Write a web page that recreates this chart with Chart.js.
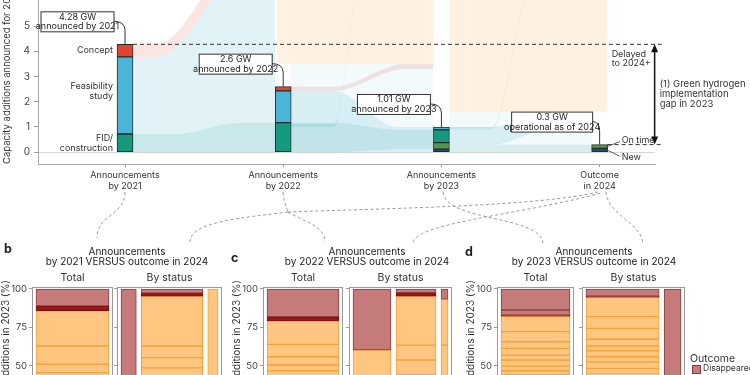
<!DOCTYPE html>
<html>
<head>
<meta charset="utf-8">
<script src="https://cdn.jsdelivr.net/npm/chart.js@4.4.1/dist/chart.umd.min.js"></script>
<style>
  body { margin: 0; width: 750px; height: 375px; overflow: hidden; position: relative; background: #fff;
         font-family: Inter, "Noto Sans", sans-serif; color: #222; }
  canvas { position: absolute; }
  .ttl { position: absolute; font-size: 10px; line-height: 10px; text-align: center; white-space: nowrap; }
  .let { position: absolute; font-size: 12.5px; line-height: 12px; font-weight: 700; }
  .yt { position: absolute; width: 200px; font-size: 10px; line-height: 11px; text-align: right; white-space: nowrap;
        transform-origin: 0 0; transform: rotate(-90deg); color: #333; }
  svg { position: absolute; left: 0; top: 0; }
</style>
</head>
<body>
<canvas id="main" width="750" height="272" style="left:0;top:-72px"></canvas>

<canvas id="bTot" width="113" height="200" style="left:0;top:270px"></canvas>
<canvas id="bSta" width="110" height="200" style="left:112px;top:270px"></canvas>
<canvas id="cTot" width="112" height="200" style="left:231px;top:270px"></canvas>
<canvas id="cSta" width="108" height="200" style="left:344px;top:270px"></canvas>
<canvas id="dTot" width="109" height="200" style="left:465px;top:270px"></canvas>
<canvas id="dSta" width="108" height="200" style="left:577px;top:270px"></canvas>

<svg width="750" height="375" fill="none" stroke="#9a9a9a" stroke-width="1" stroke-dasharray="3 2.5">
  <path d="M125,192 C125,216 97,214 97,238"/>
  <path d="M283,192 C284,204 287,208 288,212"/>
  <path d="M288,212 C240,218 190,222 190,242"/>
  <path d="M288,212 C305,222 325,226 325,242"/>
  <path d="M288,212 C400,208 540,206 598,192"/>
  <path d="M443,192 C446,222 540,215 543,243"/>
  <path d="M413,242 C420,222 520,215 601,193"/>
  <path d="M606,192 C608,215 640,222 643,243"/>
</svg>

<div class="let" style="left:4px;top:243px">b</div>
<div class="let" style="left:231px;top:252px">c</div>
<div class="let" style="left:465px;top:246px">d</div>
<div class="ttl" style="left:27px;width:200px;top:246px">Announcements<br>by 2021 VERSUS outcome in 2024</div>
<div class="ttl" style="left:267px;width:200px;top:246px">Announcements<br>by 2022 VERSUS outcome in 2024</div>
<div class="ttl" style="left:494px;width:200px;top:246px">Announcements<br>by 2023 VERSUS outcome in 2024</div>
<div class="yt" style="left:0px;top:480px">Capacity additions in 2023 (%)</div>
<div class="yt" style="left:231px;top:480px">Capacity additions in 2023 (%)</div>
<div class="yt" style="left:465px;top:480px">Capacity additions in 2023 (%)</div>

<div style="position:absolute;left:690px;top:353px;font-size:10.5px;line-height:12px;color:#333">Outcome</div>
<div style="position:absolute;left:692px;top:365px;width:7px;height:7px;background:#c47b7a;border:1px solid #8e3d3d"></div>
<div style="position:absolute;left:703px;top:362px;font-size:8.5px;line-height:12px;color:#333">Disappeared</div>

<script>
// stages on the x axis of panel a
const stages = [['Announcements', 'by 2021'], ['Announcements', 'by 2022'], ['Announcements', 'by 2023'], ['Outcome', 'in 2024']];

// capacity per status (GW), bottom to top of each bar
const newCap     = [0,    0,    0.12, 0.15];
const onTimeCap  = [0,    0,    0.26, 0.15];
const fidCap     = [0.72, 1.17, 0.51, 0];
const feasCap    = [3.06, 1.26, 0.11, 0];
const conceptCap = [0.50, 0.17, 0,    0];

const totalText = ['4.28 GW', '2.6 GW', '1.01 GW', '0.3 GW'];
const totalNote = ['announced by 2021', 'announced by 2022', 'announced by 2023', 'operational as of 2024'];
const yTicksMain = [0, 1, 2, 3, 4, 5];

// flow bands: [x start, x end, low start, high start, low end, high end, colour, rise from, rise to]
const flowBands = [
  [0.05, 0.95, 0,    3.78, 0,    7.2,  'blue', 0.17, 0.8],
  [0.05, 0.95, 3.78, 4.28, 7.2,  8.0,  'pink', 0.17, 0.8],
  [0.05, 0.95, 0,    0.72, 0,    1.17, 'teal', 0.3,  0.75],
  [0.96, 1.95, 3.5,  9,    3.5,  9,    'peach', 0.3, 0.7],
  [2.05, 3.05, 1.6,  9,    1.6,  9,    'peach', 0.3, 0.7],
  [1.05, 1.95, 0,    3.5,  0,    3.5,  'faint', 0.3, 0.7],
  [1.05, 1.95, 0,    2.43, 0,    1.0,  'blue', 0.3,  0.75],
  [1.05, 1.95, 0,    1.17, 0.12, 0.89, 'teal', 0.3,  0.75],
  [1.05, 1.95, 2.43, 2.6,  3.3,  3.5,  'pink', 0.3,  0.8],
  [1.05, 1.95, 1.0,  1.12, 7.0,  7.12, 'teal', 0.3,  0.5],
  [2.05, 2.95, 0,    1.6,  0,    1.6,  'faint', 0.3, 0.7],
  [2.05, 2.95, 0.3,  1.0,  1.0,  1.6,  'blue', 0.3,  0.75],
  [2.05, 2.95, 0,    0.3,  0,    0.3,  'teal', 0.3,  0.7],
  [2.05, 2.95, 0.9,  1.0,  7.0,  7.1,  'teal', 0.3,  0.6]
];
const flowColours = {
  blue: 'rgba(76,180,214,0.16)', faint: 'rgba(76,180,214,0.07)', pink: 'rgba(224,70,47,0.14)',
  teal: 'rgba(18,152,124,0.12)', peach: 'rgba(253,196,130,0.24)'
};

// panel b-d: segment edges (%) per bar from top to bottom, outcome of each segment, status bar widths
const shareB = [0.176, 0.706, 0.118];
const edgesB = [
  [100, 88.9, 85.8, 62.8, 50.9, 45.4, 0],
  [100, 0],
  [100, 97.2, 95.4, 62.8, 55.2, 48.6, 0],
  [100, 0]
];
const outcomeB = ['DCLLLL', 'D', 'DCLLLL', 'L'];

const shareC = [0.447, 0.471, 0.082];
const edgesC = [
  [100, 81.9, 79.2, 63.9, 55.8, 50.4, 46.7, 0],
  [100, 60.2, 0],
  [100, 97.6, 95.4, 63.4, 53.7, 43.9, 0],
  [100, 93.3, 63.4, 0]
];
const outcomeC = ['DCLLLLL', 'DL', 'DCLLLL', 'DLL'];

const shareD = [0.813, 0.187];
const edgesD = [
  [100, 86.3, 83.0, 82.2, 72.2, 65.6, 61.3, 56.9, 53.7, 49.7, 46.7, 43.9, 0],
  [100, 95.4, 94.6, 82, 74.3, 67.2, 62.8, 59.7, 55.8, 52.5, 48.2, 44.9, 0],
  [100, 0]
];
const outcomeD = ['DDCLLLLLLLLL', 'DCLLLLLLLLLL', 'D'];
const yTicksPct = [0, 25, 50, 75, 100];

Chart.defaults.font.family = 'Inter, "Noto Sans", sans-serif';
Chart.defaults.color = '#333';

// ---------- panel a ----------
const segs = [newCap, onTimeCap, fidCap, feasCap, conceptCap];
const segColours = ['#2c4677', '#4f9a4a', '#17997d', '#4cb4d6', '#e0462f'];
const totals = stages.map((_, i) => segs.reduce((s, a) => s + a[i], 0));

const mainSets = [];
let base = stages.map(() => 0);
segs.forEach((arr, k) => {
  const pts = [];
  arr.forEach((v, i) => { if (v > 0) pts.push({ x: i, y: [base[i], base[i] + v] }); });
  base = base.map((b, i) => b + arr[i]);
  mainSets.push({
    type: 'bar', data: pts, backgroundColor: segColours[k], borderColor: '#2a2a2a',
    borderWidth: 1, borderSkipped: false, barThickness: 16, grouped: false, order: 1
  });
});

flowBands.forEach(f => {
  const [xa, xb, lo0, hi0, lo1, hi1, col, fa, fb] = f;
  const xs = [xa, xa + fa * (xb - xa), xa + fb * (xb - xa), xb];
  const line = (a, b) => xs.map((x, i) => ({ x: x, y: i < 2 ? a : b }));
  const common = { type: 'line', pointRadius: 0, borderWidth: 0, cubicInterpolationMode: 'monotone', order: 2 };
  mainSets.push(Object.assign({ data: line(lo0, lo1), fill: false }, common));
  mainSets.push(Object.assign({ data: line(hi0, hi1), fill: '-1', backgroundColor: flowColours[col] }, common));
});

function drawLines(ctx, lines, x, y, lh, align) {
  ctx.textAlign = align;
  const y0 = y - (lines.length - 1) * lh / 2;
  lines.forEach((t, i) => ctx.fillText(t, x, y0 + i * lh));
}

const mainNotes = {
  id: 'mainNotes',
  afterDraw(chart) {
    const { ctx } = chart;
    const x = chart.scales.x, y = chart.scales.y;
    const px = i => x.getPixelForValue(i);
    const py = v => y.getPixelForValue(v);
    ctx.save();
    ctx.textBaseline = 'middle';
    ctx.fillStyle = '#333';
    ctx.font = '9px Inter, "Noto Sans", sans-serif';

    // gap lines and arrow
    const xr = px(3) + 62;
    ctx.strokeStyle = '#333';
    ctx.lineWidth = 1;
    ctx.setLineDash([4, 3]);
    ctx.beginPath();
    ctx.moveTo(px(0) + 8, py(totals[0])); ctx.lineTo(xr, py(totals[0]));
    ctx.moveTo(px(3) + 8, py(totals[3])); ctx.lineTo(xr, py(totals[3]));
    ctx.stroke();
    ctx.setLineDash([]);
    const xa = px(3) + 55, ya = py(totals[0]), yb = py(totals[3]);
    ctx.lineWidth = 1.5;
    ctx.strokeStyle = '#111';
    ctx.beginPath(); ctx.moveTo(xa, ya + 4); ctx.lineTo(xa, yb - 4); ctx.stroke();
    ctx.fillStyle = '#111';
    ctx.beginPath(); ctx.moveTo(xa, ya); ctx.lineTo(xa - 3.5, ya + 8); ctx.lineTo(xa + 3.5, ya + 8); ctx.fill();
    ctx.beginPath(); ctx.moveTo(xa, yb); ctx.lineTo(xa - 3.5, yb - 8); ctx.lineTo(xa + 3.5, yb - 8); ctx.fill();

    ctx.fillStyle = '#333';
    drawLines(ctx, ['Delayed', 'to 2024+'], px(3) + 12, ya + 14.5, 9.5, 'left');
    ctx.font = '9.5px Inter, "Noto Sans", sans-serif';
    drawLines(ctx, ['(1) Green hydrogen', 'implementation', 'gap in 2023'], px(3) + 60, (ya + yb) / 2, 10, 'left');
    ctx.font = '9px Inter, "Noto Sans", sans-serif';

    // status labels on the first bar
    const b0 = px(0) - 12;
    drawLines(ctx, ['Concept'], b0, py(fidCap[0] + feasCap[0] + conceptCap[0] / 2), 9.5, 'right');
    drawLines(ctx, ['Feasibility', 'study'], b0, py(fidCap[0] + feasCap[0] / 2) - 4, 9.5, 'right');
    drawLines(ctx, ['FID/', 'construction'], b0, py(fidCap[0] / 2), 9.5, 'right');

    // on time / new labels
    ctx.strokeStyle = '#333'; ctx.lineWidth = 0.8;
    const ob = px(3) + 8;
    ctx.beginPath();
    ctx.moveTo(ob, py(newCap[3] + onTimeCap[3] / 2)); ctx.lineTo(ob + 12, py(totals[3]) - 3);
    ctx.moveTo(ob, py(newCap[3] / 2)); ctx.lineTo(ob + 12, py(0) + 4);
    ctx.stroke();
    drawLines(ctx, ['On time'], ob + 14, py(totals[3]) - 4, 9.5, 'left');
    drawLines(ctx, ['New'], ob + 14, py(0) + 5, 9.5, 'left');

    // total boxes
    totals.forEach((t, i) => {
      const bx = px(i), by = py(t);
      const w = i === 3 ? 81 : 73, h = 20;
      const cx = bx - 48, cy = by - 23;
      ctx.strokeStyle = '#333'; ctx.lineWidth = 1;
      ctx.beginPath();
      ctx.moveTo(cx + w / 2, cy);
      ctx.quadraticCurveTo(bx, cy, bx, cy + 9);
      ctx.lineTo(bx, by);
      ctx.stroke();
      ctx.fillStyle = '#fff';
      ctx.fillRect(cx - w / 2, cy - h / 2, w, h);
      ctx.strokeRect(cx - w / 2 + 0.5, cy - h / 2 + 0.5, w, h);
      ctx.fillStyle = '#222';
      drawLines(ctx, [totalText[i], totalNote[i]], cx + 0.5, cy + 0.5, 9.5, 'center');
    });
    ctx.restore();
  }
};

new Chart(document.getElementById('main'), {
  type: 'bar',
  data: { datasets: mainSets },
  options: {
    responsive: false, animation: false, events: [],
    layout: { padding: { left: 0, right: 95, top: 0, bottom: 0 } },
    plugins: { legend: { display: false }, tooltip: { enabled: false } },
    scales: {
      x: {
        type: 'linear', min: -0.55, max: 3.35, offset: false,
        afterBuildTicks: s => { s.ticks = stages.map((_, i) => ({ value: i })); },
        afterFit: s => { s.height = 36; },
        ticks: { callback: v => stages[v], font: { size: 9 }, color: '#333', padding: 3, maxRotation: 0, autoSkip: false },
        grid: { drawOnChartArea: false, tickLength: 3, tickColor: '#999', offset: false },
        border: { color: '#aaa' }
      },
      y: {
        type: 'linear', min: -0.47, max: 8.5,
        afterBuildTicks: s => { s.ticks = yTicksMain.map(v => ({ value: v })); },
        afterFit: s => { s.width = 38; },
        ticks: { font: { size: 10 }, color: '#444', padding: 4 },
        grid: { color: c => (c.tick && c.tick.value === 0 ? '#d8d8d8' : 'rgba(0,0,0,0)'), tickLength: 4, tickColor: '#999' },
        border: { color: '#aaa' },
        title: { display: true, align: 'start', text: 'Capacity additions announced for 2023 (GW)', font: { size: 9.5 }, color: '#333', padding: { top: 1, bottom: 2 } }
      }
    }
  },
  plugins: [mainNotes]
});

// ---------- panels b-d ----------
const outcomeFill = { D: '#c47b7a', C: '#9b1717', L: '#fec680' };
const outcomeLine = { D: '#8e3d3d', C: '#7d1010', L: '#f2a23a' };

function facetFrame(header) {
  return {
    id: 'facetFrame',
    afterDraw(chart) {
      const { ctx, chartArea: a } = chart;
      ctx.save();
      ctx.strokeStyle = '#9a9a9a'; ctx.lineWidth = 1;
      ctx.strokeRect(a.left + 0.5, a.top + 0.5, a.right - a.left - 1, a.bottom - a.top);
      ctx.fillStyle = '#333';
      ctx.font = '10.5px Inter, "Noto Sans", sans-serif';
      ctx.textAlign = 'center'; ctx.textBaseline = 'middle';
      ctx.fillText(header, (a.left + a.right) / 2, a.top - 9);
      ctx.restore();
    }
  };
}

function facet(id, frameW, axisW, header, edgesList, outcomeList, shares) {
  const pad = 4, gap = 5;
  const centres = [], widths = [];
  if (!shares) {
    centres.push(frameW / 2); widths.push(frameW - 2 * pad);
  } else {
    const avail = frameW - 2 * pad - gap * (shares.length - 1);
    let xx = pad;
    shares.forEach(s => { const w = s * avail; centres.push(xx + w / 2); widths.push(w); xx += w + gap; });
  }
  const sets = [];
  edgesList.forEach((edges, b) => {
    for (let k = 0; k < edges.length - 1; k++) {
      const o = outcomeList[b][k];
      sets.push({
        data: [{ x: centres[b], y: [edges[k + 1], edges[k]] }],
        backgroundColor: outcomeFill[o], borderColor: outcomeLine[o], borderWidth: 1,
        borderSkipped: false, barThickness: widths[b], grouped: false
      });
    }
  });
  new Chart(document.getElementById(id), {
    type: 'bar',
    data: { datasets: sets },
    options: {
      responsive: false, animation: false, events: [],
      layout: { padding: { top: 17, bottom: 25.7, left: 0, right: 0 } },
      plugins: { legend: { display: false }, tooltip: { enabled: false } },
      scales: {
        x: { type: 'linear', min: 0, max: frameW, offset: false, display: false },
        y: {
          min: -1.3, max: 101.3,
          afterBuildTicks: s => { s.ticks = yTicksPct.map(v => ({ value: v })); },
          afterFit: s => { s.width = axisW; },
          ticks: { display: !shares, font: { size: 9.5 }, color: '#444', padding: 2 },
          grid: { drawOnChartArea: false, tickLength: 3, tickColor: '#999' },
          border: { display: false }
        }
      }
    },
    plugins: [facetFrame(header)]
  });
}

facet('bTot', 81, 32, 'Total', [edgesB[0]], [outcomeB[0]], null);
facet('bSta', 105, 5, 'By status', edgesB.slice(1), outcomeB.slice(1), shareB);
facet('cTot', 80, 32, 'Total', [edgesC[0]], [outcomeC[0]], null);
facet('cSta', 103, 5, 'By status', edgesC.slice(1), outcomeC.slice(1), shareC);
facet('dTot', 77, 32, 'Total', [edgesD[0]], [outcomeD[0]], null);
facet('dSta', 103, 5, 'By status', edgesD.slice(1), outcomeD.slice(1), shareD);
</script>
</body>
</html>
